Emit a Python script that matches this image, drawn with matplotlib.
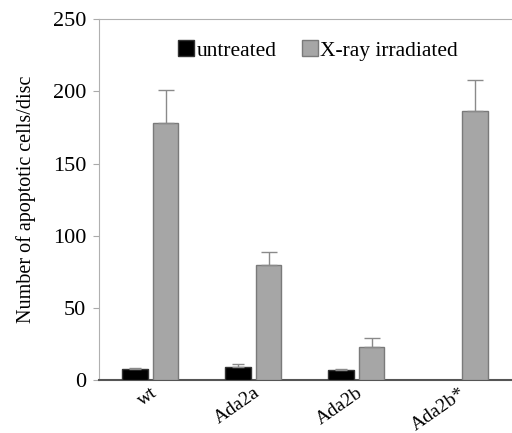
import numpy as np
import matplotlib.pyplot as plt

plt.rcParams['font.family'] = ['Liberation Serif', 'DejaVu Serif']

genotypes = ['wt', 'Ada2a', 'Ada2b', 'Ada2b*']
untreated = [8, 9, 7, np.nan]
untreated_err = [0.5, 2, 0.5, 0]
irradiated = [178, 80, 23, 186]
irradiated_err = [23, 9, 6, 22]

fig = plt.figure(figsize=(5.12, 4.33), dpi=100)
ax = fig.add_axes([0.193, 0.122, 0.805, 0.834])

x = np.arange(len(genotypes))
w = 0.245
ax.bar(x - 0.15, untreated, w, color='black', edgecolor='#333333', linewidth=1,
       yerr=[np.zeros(4), untreated_err], ecolor='#8a8a8a', capsize=4,
       error_kw=dict(elinewidth=1, capthick=1), label='untreated', zorder=3)
ax.bar(x + 0.15, irradiated, w, color='#a6a6a6', edgecolor='#7a7a7a', linewidth=1,
       yerr=[np.zeros(4), irradiated_err], ecolor='#8a8a8a', capsize=6,
       error_kw=dict(elinewidth=1, capthick=1), label='X-ray irradiated', zorder=3)

ax.set_xlim(-0.5, 3.5)
ax.set_ylim(0, 250)
ax.set_yticks([0, 50, 100, 150, 200, 250])
ax.set_xticks(x)
ax.set_xticklabels(genotypes, rotation=35, ha='right', rotation_mode='anchor', fontsize=14)
ax.tick_params(axis='x', length=0, pad=3)
ax.tick_params(axis='y', labelsize=16, length=4, color='#aaaaaa', direction='out', pad=5)
ax.set_ylabel('Number of apoptotic cells/disc', fontsize=14.5, labelpad=12)

for s in ['left', 'top']:
    ax.spines[s].set_color('#b0b0b0')
ax.spines['right'].set_visible(False)
ax.spines['bottom'].set_color('#555555')
ax.spines['bottom'].set_linewidth(1.5)

ax.legend(loc='upper center', bbox_to_anchor=(0.532, 0.995), ncol=2, frameon=False,
          fontsize=15.5, handlelength=0.75, handleheight=0.75, handletextpad=0.1,
          columnspacing=1.2)

fig.savefig('out.png', dpi=100)
